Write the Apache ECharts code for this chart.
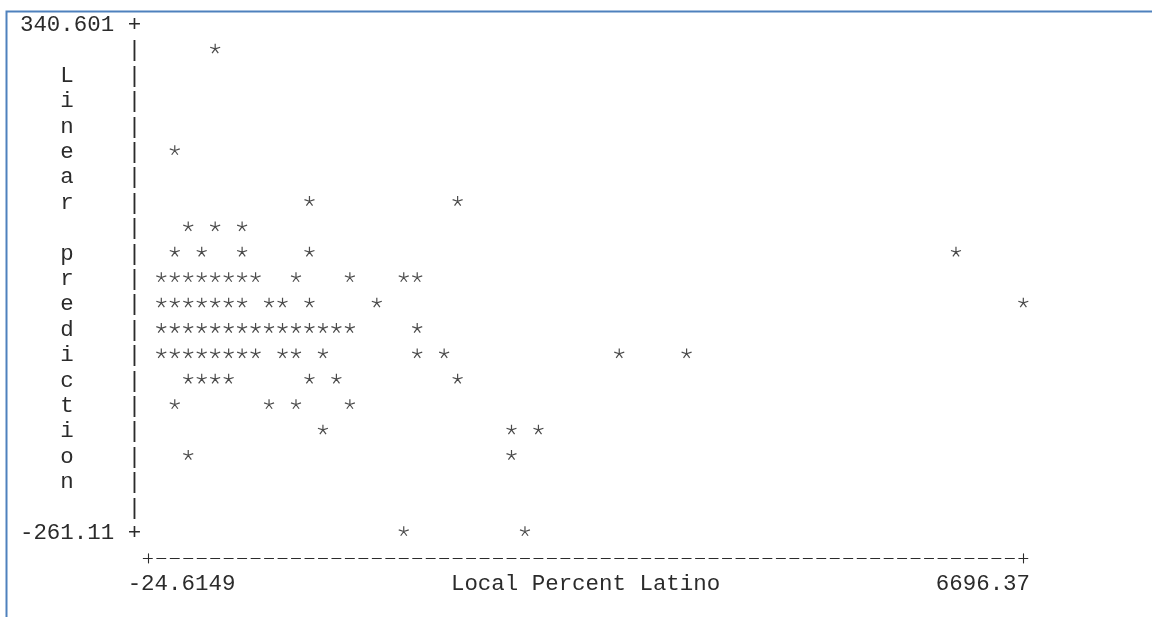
<!DOCTYPE html>
<html>
<head>
<meta charset="utf-8">
<script src="https://cdn.jsdelivr.net/npm/echarts@6/dist/echarts.min.js"></script>
<style>
  html, body { margin: 0; padding: 0; background: #ffffff; }
  #chart { width: 1152px; height: 617px; }
</style>
</head>
<body>
<div id="chart"></div>
<script>
// Local Percent Latino (x) and linear prediction (y), one pair per plotted asterisk
const latinoPct = [
  395.45,
  80.40,
  1130.55, 2285.72,
  185.42, 395.45, 605.48,
  80.40, 290.43, 605.48, 1130.55, 6171.29,
  -24.61, 80.40, 185.42, 290.43, 395.45, 500.46, 605.48, 710.49, 1025.54, 1445.60, 1865.66, 1970.68,
  -24.61, 80.40, 185.42, 290.43, 395.45, 500.46, 605.48, 815.51, 920.52, 1130.55, 1655.63, 6696.37,
  -24.61, 80.40, 185.42, 290.43, 395.45, 500.46, 605.48, 710.49, 815.51, 920.52, 1025.54, 1130.55, 1235.57, 1340.59, 1445.60, 1970.68,
  -24.61, 80.40, 185.42, 290.43, 395.45, 500.46, 605.48, 710.49, 920.52, 1025.54, 1235.57, 1970.68, 2180.71, 3545.91, 4071.00,
  185.42, 290.43, 395.45, 500.46, 1130.55, 1340.59, 2285.72,
  80.40, 815.51, 1025.54, 1445.60,
  1235.57, 2705.79, 2915.82,
  185.42, 2705.79,
  1865.66, 2810.80
];
const linearPred = [
  310.52,
  190.17,
  130.00, 130.00,
  99.92, 99.92, 99.92,
  69.83, 69.83, 69.83, 69.83, 69.83,
  39.75, 39.75, 39.75, 39.75, 39.75, 39.75, 39.75, 39.75, 39.75, 39.75, 39.75, 39.75,
  9.66, 9.66, 9.66, 9.66, 9.66, 9.66, 9.66, 9.66, 9.66, 9.66, 9.66, 9.66,
  -20.43, -20.43, -20.43, -20.43, -20.43, -20.43, -20.43, -20.43, -20.43, -20.43, -20.43, -20.43, -20.43, -20.43, -20.43, -20.43,
  -50.51, -50.51, -50.51, -50.51, -50.51, -50.51, -50.51, -50.51, -50.51, -50.51, -50.51, -50.51, -50.51, -50.51, -50.51,
  -80.60, -80.60, -80.60, -80.60, -80.60, -80.60, -80.60,
  -110.68, -110.68, -110.68, -110.68,
  -140.77, -140.77, -140.77,
  -170.85, -170.85,
  -261.11, -261.11
];

// Extremes printed at the ends of each axis
const xTickLabels = ['-24.6149', '6696.37'];
const yTickLabels = ['340.601', '-261.11'];
const xTitle = 'Local Percent Latino';
const yTitle = 'Linear prediction';

const X_MIN = -24.6149, X_MAX = 6696.37;
const Y_MIN = -261.11, Y_MAX = 340.601;
const X_COLS = 64, Y_ROWS = 20;            // character cells spanned by the data
const xStep = (X_MAX - X_MIN) / X_COLS;
const yStep = (Y_MAX - Y_MIN) / Y_ROWS;

// Character-grid layout (monospace terminal look)
const CELL_W = 13.469;
const ROW_H = 25.4;
const FONT_SIZE = 22.45;
const FONT = "'Courier New', 'Nimbus Mono PS', 'FreeMono', 'Liberation Mono', monospace";
const INK = '#2b2b2b';
const GRID_LEFT = 141.1;
const GRID_TOP = 25;

const yRowValues = [];
for (let i = 0; i <= Y_ROWS; i++) {
  yRowValues.push(i === Y_ROWS ? Y_MIN : Y_MAX - i * yStep);
}

const points = latinoPct.map((x, i) => [x, linearPred[i]]);

// y title written one letter per line, top to bottom
const yTitleStacked = yTitle.split('').join('\n');

// five-spoke asterisk
const ASTERISK = 'path://M0,0L0,-5M0,0L4.755,-1.545M0,0L2.939,4.045M0,0L-2.939,4.045M0,0L-4.755,-1.545';

const textBase = { fontFamily: FONT, fontSize: FONT_SIZE, color: INK, lineHeight: ROW_H };

const xRange = { min: X_MIN - 1.5 * xStep, max: X_MAX + 0.5 * xStep };
const cornerTicks = [X_MIN - xStep, X_MAX];

const chart = echarts.init(document.getElementById('chart'), null, { renderer: 'canvas' });
chart.setOption({
  backgroundColor: '#ffffff',
  animation: false,
  graphic: [{
    type: 'polyline',
    silent: true,
    shape: { points: [[6.5, 617], [6.5, 11.5], [1152, 11.5]] },
    style: { stroke: '#4f81bd', lineWidth: 2, fill: null }
  }],
  grid: {
    left: GRID_LEFT,
    top: GRID_TOP,
    width: (X_COLS + 2) * CELL_W,
    height: Y_ROWS * ROW_H,
    containLabel: false,
    outerBoundsMode: 'none'
  },
  xAxis: [{
    type: 'value',
    min: xRange.min,
    max: xRange.max,
    position: 'bottom',
    offset: ROW_H,
    splitLine: { show: false },
    axisLine: {
      show: true,
      onZero: false,
      symbol: 'none',
      lineStyle: { color: INK, width: 1.1, type: [9, CELL_W - 9], dashOffset: 9 + (CELL_W - 9) / 2 }
    },
    axisTick: {
      show: true,
      customValues: cornerTicks,
      length: 5,
      inside: false,
      lineStyle: { color: INK, width: 1.1 }
    },
    axisLabel: {
      ...textBase,
      customValues: [X_MIN, X_MAX],
      margin: ROW_H,
      verticalAlign: 'middle',
      align: 'center',
      formatter: v => (Math.abs(v - X_MIN) < 1e-6 ? '   ' + xTickLabels[0] : xTickLabels[1] + '      ')
    },
    name: xTitle,
    nameLocation: 'middle',
    nameGap: ROW_H / 2,
    nameMoveOverlap: false,
    nameTextStyle: { ...textBase }
  }, {
    type: 'value',
    min: xRange.min,
    max: xRange.max,
    position: 'bottom',
    offset: ROW_H,
    splitLine: { show: false },
    axisLine: { show: false, onZero: false },
    axisLabel: { show: false },
    axisTick: {
      show: true,
      customValues: cornerTicks,
      length: 5,
      inside: true,
      lineStyle: { color: INK, width: 1.1 }
    }
  }],
  yAxis: {
    type: 'value',
    min: Y_MIN,
    max: Y_MAX,
    splitLine: { show: false },
    axisLine: { show: false, onZero: false },
    axisTick: { show: false },
    axisLabel: {
      ...textBase,
      customValues: yRowValues,
      margin: 0,
      align: 'right',
      verticalAlign: 'middle',
      formatter: v => {
        const i = Math.round((Y_MAX - v) / yStep);
        if (i === 0) return yTickLabels[0] + ' +';
        if (i === Y_ROWS) return yTickLabels[1] + ' +';
        return '|';
      }
    },
    name: yTitleStacked,
    nameLocation: 'middle',
    nameRotate: 0,
    nameGap: 5 * CELL_W,
    nameMoveOverlap: false,
    nameTextStyle: { ...textBase }
  },
  series: [{
    type: 'scatter',
    xAxisIndex: 0,
    yAxisIndex: 0,
    data: points,
    symbol: ASTERISK,
    symbolSize: 10,
    symbolKeepAspect: true,
    symbolOffset: [0, -2],
    silent: true,
    itemStyle: { color: 'rgba(0,0,0,0)', borderColor: '#1e1e1e', borderWidth: 1.2 },
    emphasis: { disabled: true }
  }]
});
</script>
</body>
</html>
